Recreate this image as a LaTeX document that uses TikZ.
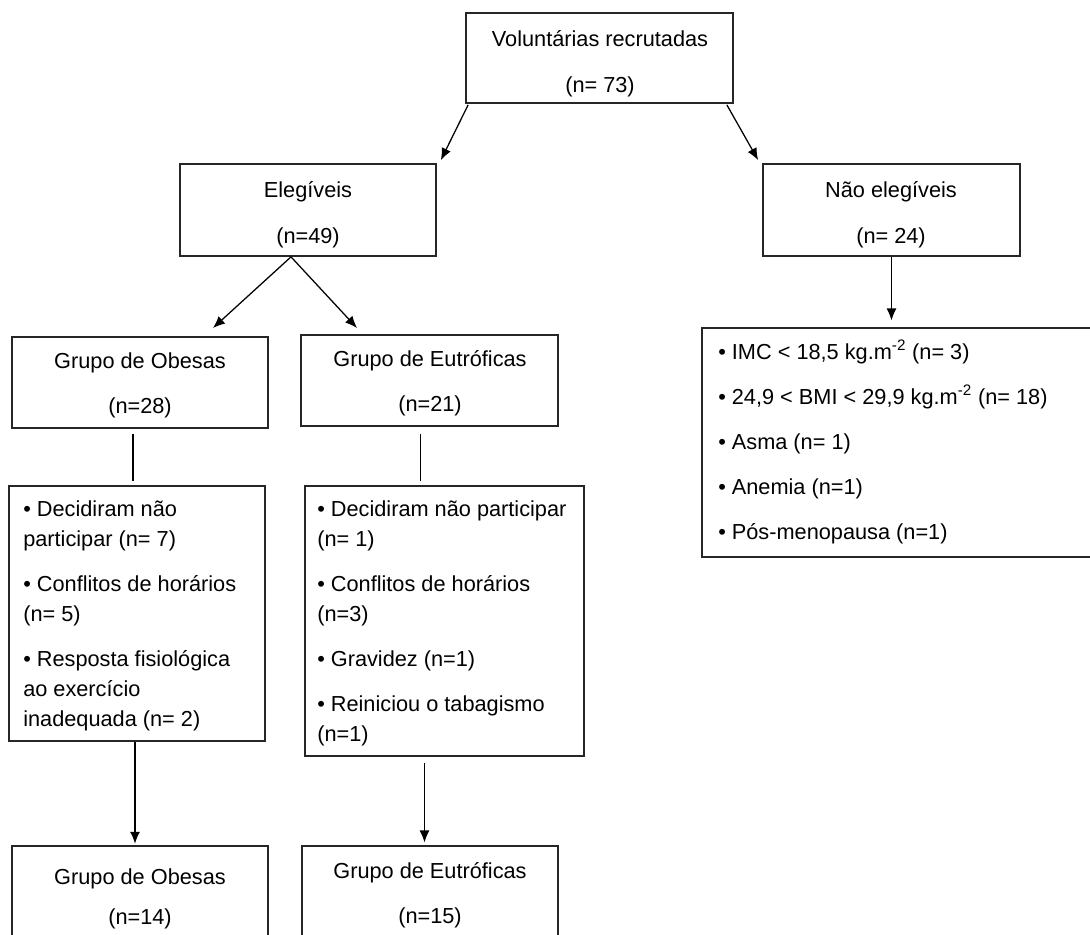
\documentclass[tikz,border=0pt]{standalone}
\usepackage{fontspec}
\setmainfont{Liberation Sans}
\usetikzlibrary{arrows.meta,fit,calc}
\definecolor{boxc}{RGB}{38,38,38}
\newcommand{\fsz}{\fontsize{16.3pt}{22.5pt}\selectfont}
\begin{document}
\begin{tikzpicture}[x=0.75pt,y=-0.75pt,
  box/.style={draw=boxc, line width=1.3pt, inner sep=0pt, rectangle},
  txt/.style={inner sep=0pt, anchor=base, font=\fsz},
  ltxt/.style={inner sep=0pt, anchor=base west, font=\fsz},
  conn/.style={draw=black, line width=0.95pt},
  arr/.style={conn, -{Latex[length=9pt,width=7.5pt]}}]
\useasboundingbox (0,0) rectangle (1090,935);
\clip (0,0) rectangle (1090,935);
% boxes
\node[box, fit={(466,13) (733,103)}] (top) {};
\node[box, fit={(180,164) (436,256)}] (eleg) {};
\node[box, fit={(763,164) (1020,256)}] (nao) {};
\node[box, fit={(12,337) (268,428)}] (ob1) {};
\node[box, fit={(301,335) (558,426)}] (eu1) {};
\node[box, fit={(9,486) (265,741)}] (oblist) {};
\node[box, fit={(305,486) (584,756)}] (eulist) {};
\node[box, fit={(702,328) (1110,557)}] (nolist) {};
\node[box, fit={(12,846) (268,970)}] (ob2) {};
\node[box, fit={(302,846) (558,970)}] (eu2) {};
% texts
\node[txt] (ta) at (600,46) {Voluntárias recrutadas};
\node[txt] (tb) at (600,92) {(n= 73)};
\node[txt] (ea) at (308,197) {Elegíveis};
\node[txt] (eb) at (308,243) {(n=49)};
\node[txt] (na) at (891,197) {Não elegíveis};
\node[txt] (nb) at (891,243) {(n= 24)};
\node[txt] (oa) at (140,368) {Grupo de Obesas};
\node[txt] (ob) at (140,413) {(n=28)};
\node[txt] (ua) at (430,366) {Grupo de Eutróficas};
\node[txt] (ub) at (430,411) {(n=21)};
\node[txt] (oc) at (140,884) {Grupo de Obesas};
\node[txt] (od) at (140,924) {(n=14)};
\node[txt] (uc) at (430,878) {Grupo de Eutróficas};
\node[txt] (ud) at (430,923) {(n=15)};
% obesas list
\node[ltxt] (ol1) at (23,516) {• Decidiram não};
\node[ltxt] (ol2) at (23,546) {participar (n= 7)};
\node[ltxt] (ol3) at (23,591) {• Conflitos de horários};
\node[ltxt] (ol4) at (23,621) {(n= 5)};
\node[ltxt] (ol5) at (23,666) {• Resposta fisiológica};
\node[ltxt] (ol6) at (23,696) {ao exercício};
\node[ltxt] (ol7) at (23,726) {inadequada (n= 2)};
% eutroficas list
\node[ltxt] (ul1) at (317,516) {• Decidiram não participar};
\node[ltxt] (ul2) at (317,546) {(n= 1)};
\node[ltxt] (ul3) at (317,591) {• Conflitos de horários};
\node[ltxt] (ul4) at (317,621) {(n=3)};
\node[ltxt] (ul5) at (317,666) {• Gravidez (n=1)};
\node[ltxt] (ul6) at (317,711) {• Reiniciou o tabagismo};
\node[ltxt] (ul7) at (317,741) {(n=1)};
% nao elegiveis list
\node[ltxt] (nl1) at (718,359) {• IMC < 18,5 kg.m\textsuperscript{-2} (n= 3)};
\node[ltxt] (nl2) at (718,404) {• 24,9 < BMI < 29,9 kg.m\textsuperscript{-2} (n= 18)};
\node[ltxt] (nl3) at (718,449) {• Asma (n= 1)};
\node[ltxt] (nl4) at (718,494) {• Anemia (n=1)};
\node[ltxt] (nl5) at (718,539) {• Pós-menopausa (n=1)};
% connectors
\draw[arr] ($(top.south west)+(3,1)$) -- ($(eleg.north east)+(4,-3)$);
\draw[arr] ($(top.south east)+(-7,1)$) -- ($(nao.north west)+(-4,-3)$);
\coordinate (split) at ($(eleg.south)+(-17,0)$);
\coordinate (obtip) at (213,328);
\coordinate (eutip) at (357,328);
\draw[arr] (split) -- (obtip);
\draw[arr] (split) -- (eutip);
\draw[arr, shorten >=5pt] (nao.south) -- (nao.south |- nolist.north);
\coordinate (obl) at ($(ob1.south)+(-7,5)$);
\draw[conn] (obl) -- ([yshift=3pt]obl |- oblist.north);
\coordinate (eul) at ($(eu1.south)+(-9,7)$);
\draw[conn] (eul) -- ([yshift=3pt]eul |- eulist.north);
\coordinate (oba) at ($(oblist.south)+(-2,0)$);
\draw[arr, shorten >=1pt] (oba) -- (oba |- ob2.north);
\coordinate (eua) at ($(eulist.south)+(-20,6)$);
\draw[arr, shorten >=2pt] (eua) -- (eua |- eu2.north);
\end{tikzpicture}
\end{document}
